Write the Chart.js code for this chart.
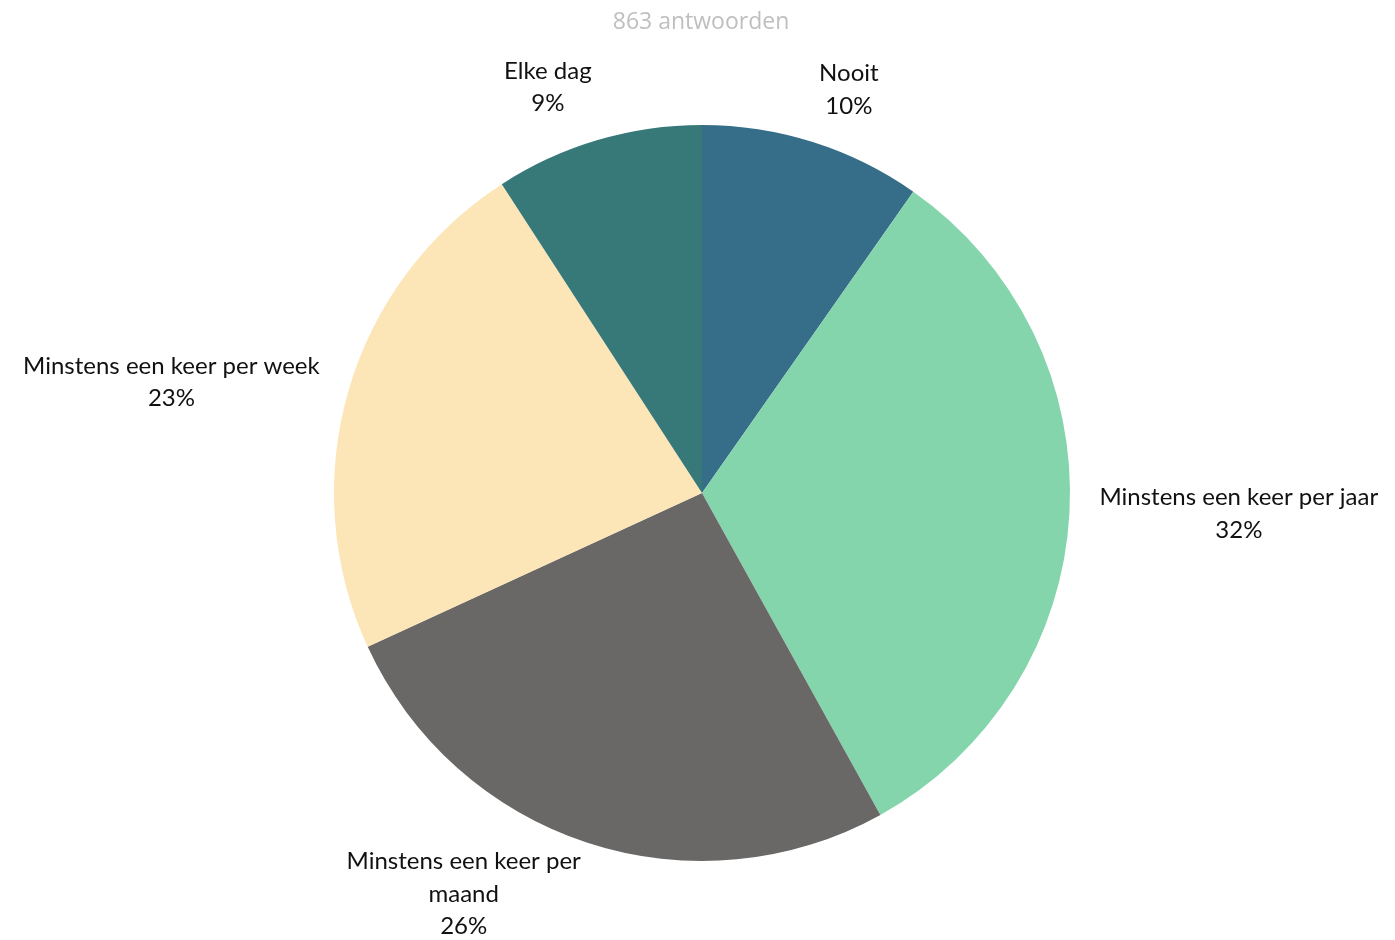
<!DOCTYPE html>
<html>
<head>
<meta charset="utf-8">
<script src="https://cdn.jsdelivr.net/npm/chart.js@4"></script>
<style>
  html, body { margin: 0; padding: 0; background: #fff; }
  #wrap { width: 1395px; height: 940px; position: relative; }
</style>
</head>
<body>
<div id="wrap"><canvas id="pie"></canvas></div>
<script>
// ── Data ──
const titleText = "863 antwoorden";
const categories = [
  "Nooit",
  "Minstens een keer per jaar",
  ["Minstens een keer per", "maand"],
  "Minstens een keer per week",
  "Elke dag",
];
const answers = [84, 278, 226, 196, 79]; // estimated counts, total 863
const colors = ["#366e8a", "#85d5ac", "#696866", "#fce5b7", "#377879"];

const LABEL_FONT = "24px Lato, 'Open Sans', sans-serif";
const LINE_H = 32.5;
const GAP_TOP = 21;   // labels hanging off a corner (top / bottom)
const GAP_SIDE = 30;  // labels hanging off a side edge

const total = answers.reduce((a, b) => a + b, 0);

// ── Title + outside labels ──
const outsideLabels = {
  id: "outsideLabels",
  afterDraw(chart) {
    const { ctx, width, height } = chart;
    ctx.save();

    ctx.font = "23px 'Open Sans', sans-serif";
    ctx.fillStyle = "#bfbfbf";
    ctx.textAlign = "center";
    ctx.textBaseline = "middle";
    ctx.fillText(titleText, 701, 22);

    ctx.font = LABEL_FONT;
    ctx.fillStyle = "#111";
    const meta = chart.getDatasetMeta(0);
    meta.data.forEach((arc, i) => {
      const { x, y, startAngle, endAngle, outerRadius } = arc.getProps(["x", "y", "startAngle", "endAngle", "outerRadius"], true);
      const name = categories[i];
      const lines = Array.isArray(name) ? name.slice() : [name];
      lines.push(Math.round(answers[i] / total * 100) + "%");
      const w = Math.max(...lines.map(l => ctx.measureText(l).width));
      const h = lines.length * LINE_H;

      // angle clockwise from the top; box hangs off an anchor just outside the rim
      const a = (startAngle + endAngle) / 2 + Math.PI / 2;
      const s = Math.sin(a), c = Math.cos(a);
      const corner = Math.abs(c) >= 0.5;
      const r = outerRadius + (corner ? GAP_TOP : GAP_SIDE);
      const px = x + r * s;
      const py = y - r * c;
      let cx = px + Math.sign(s) * w / 2;
      let cy = corner ? py - Math.sign(c) * h / 2 : py;

      // keep inside the canvas
      cy = Math.min(Math.max(cy, h / 2 - 3), height + 3 - h / 2);
      cx = Math.min(Math.max(cx, w / 2 + 2), width - 2 - w / 2);

      const top = cy - h / 2;
      lines.forEach((l, k) => ctx.fillText(l, cx, top + LINE_H * (k + 0.5)));
    });
    ctx.restore();
  },
};

new Chart(document.getElementById("pie"), {
  type: "pie",
  data: {
    labels: categories,
    datasets: [{
      data: answers,
      backgroundColor: colors,
      borderWidth: 0,
    }],
  },
  options: {
    responsive: true,
    maintainAspectRatio: false,
    animation: false,
    layout: { padding: { top: 125, bottom: 79, left: 334, right: 325 } },
    plugins: { legend: { display: false }, tooltip: { enabled: false } },
  },
  plugins: [outsideLabels],
});
</script>
</body>
</html>
